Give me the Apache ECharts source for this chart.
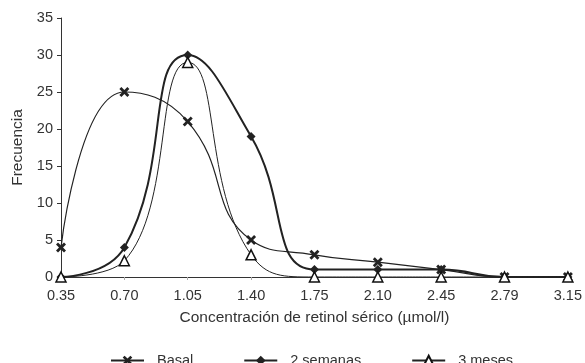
<!DOCTYPE html>
<html>
<head>
<meta charset="utf-8">
<script src="https://cdn.jsdelivr.net/npm/echarts@6/dist/echarts.min.js"></script>
<style>
  html, body { margin: 0; padding: 0; background: #fff; }
  #chart { width: 585px; height: 363px; }
</style>
</head>
<body>
<div id="chart"></div>
<script>
  // datos
  var categorias = ['0.35', '0.70', '1.05', '1.40', '1.75', '2.10', '2.45', '2.79', '3.15'];
  var basal = [4, 25, 21, 5, 3, 2, 1, 0, 0];
  var semanas2 = [0, 4, 30, 19, 1, 1, 1, 0, 0];
  var meses3 = [0, 2.2, 29, 3, 0, 0, 0, 0, 0];

  var fuente = 'Liberation Sans';
  var cruz = 'path://M2,0 L5,3 L8,0 L10,2 L7,5 L10,8 L8,10 L5,7 L2,10 L0,8 L3,5 L0,2 Z';

  var myChart = echarts.init(document.getElementById('chart'));
  var option = {
    animation: false,
    textStyle: { fontFamily: fuente },
    grid: { left: 61, right: 13, top: 18, bottom: 86 },
    legend: {
      top: 348,
      left: 105,
      itemWidth: 33,
      itemHeight: 12,
      itemGap: 50,
      textStyle: { fontSize: 14.5, color: '#333', fontFamily: fuente, padding: [0, 0, 0, 8] },
      data: ['Basal', '2 semanas', '3 meses']
    },
    xAxis: {
      type: 'category',
      data: categorias,
      boundaryGap: false,
      name: 'Concentración de retinol sérico (µmol/l)',
      nameLocation: 'middle',
      nameGap: 33,
      nameTextStyle: { fontSize: 15.5, color: '#333' },
      axisLine: { lineStyle: { color: '#333', width: 1 } },
      axisTick: { show: true, length: 3, lineStyle: { color: '#aaa' } },
      axisLabel: { fontSize: 14.5, color: '#333', margin: 11 },
      splitLine: { show: false }
    },
    yAxis: {
      type: 'value',
      min: 0,
      max: 35,
      interval: 5,
      name: 'Frecuencia',
      nameLocation: 'middle',
      nameGap: 33,
      nameTextStyle: { fontSize: 15.5, color: '#333' },
      axisLine: { show: true, lineStyle: { color: '#333', width: 1 } },
      axisTick: { show: true, length: 4, lineStyle: { color: '#333' } },
      axisLabel: { fontSize: 14.5, color: '#333', margin: 8 },
      splitLine: { show: false }
    },
    series: [
      {
        name: 'Basal',
        type: 'line',
        data: basal,
        smooth: 0.5,
        symbol: cruz,
        symbolSize: 10,
        itemStyle: { color: '#222' },
        lineStyle: { color: '#222', width: 1.2 },
        z: 3
      },
      {
        name: '2 semanas',
        type: 'line',
        data: semanas2,
        smooth: 0.5,
        symbol: 'diamond',
        symbolSize: 9,
        itemStyle: { color: '#222' },
        lineStyle: { color: '#222', width: 2 },
        z: 4
      },
      {
        name: '3 meses',
        type: 'line',
        data: meses3,
        smooth: 0.5,
        symbol: 'triangle',
        symbolSize: 10,
        showAllSymbol: true,
        itemStyle: { color: '#fff', borderColor: '#111', borderWidth: 1.5 },
        lineStyle: { color: '#222', width: 1 },
        z: 5
      }
    ]
  };
  myChart.setOption(option);
  window.addEventListener('resize', function () {
    myChart.resize();
  });
</script>
</body>
</html>
